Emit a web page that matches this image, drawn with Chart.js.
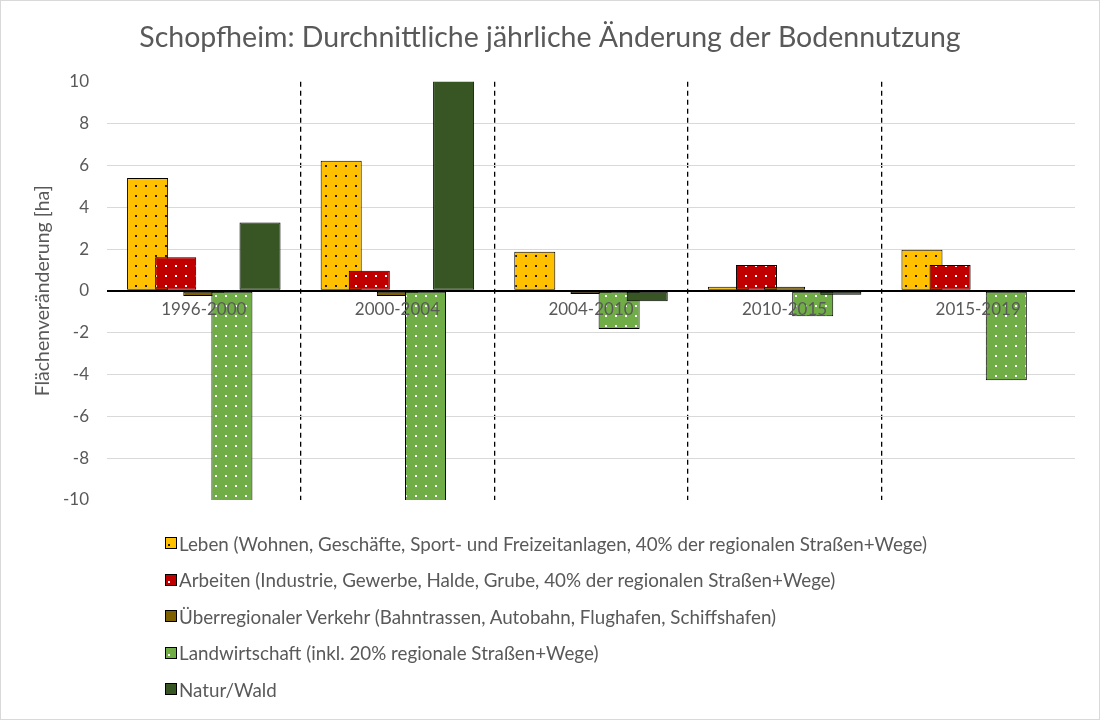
<!DOCTYPE html>
<html lang="de">
<head>
<meta charset="utf-8">
<title>Schopfheim Bodennutzung</title>
<script src="https://cdn.jsdelivr.net/npm/chart.js@4"></script>
<style>
  html, body { margin: 0; padding: 0; background: #fff; }
  #wrap { position: relative; width: 1100px; height: 720px; box-sizing: border-box; border: 1px solid #d9d9d9; }
  #wrap canvas { position: absolute; left: 0; top: 0; }
  #legend { position: absolute; left: 164px; top: 524px; font-family: Lato, "Open Sans", sans-serif; font-size: 18.8px; color: #595959; }
  #legend .item { height: 36.5px; display: flex; align-items: center; white-space: nowrap; }
  #legend .box { width: 10px; height: 10px; border: 1px solid #000; margin-right: 2px; flex: none; position: relative; }
  #legend .dot { position: absolute; left: 2px; top: 6px; width: 2px; height: 2px; }
</style>
</head>
<body>
<div id="wrap">
  <canvas id="chart" width="1098" height="718"></canvas>
  <div id="legend"></div>
</div>
<script>
// Zeiträume
const perioden = ['1996-2000', '2000-2004', '2004-2010', '2010-2015', '2015-2019'];

// durchschnittliche jährliche Änderung in ha
const leben = [5.39, 6.22, 1.87, 0.2, 1.96];
const arbeiten = [1.61, 0.96, 0.05, 1.23, 1.23];
const verkehr = [-0.25, -0.25, -0.15, 0.2, 0];
const landwirtschaft = [-11, -11, -1.83, -1.21, -4.27];
const natur = [3.27, 10.6, -0.5, -0.19, 0];

const yTicks = [-10, -8, -6, -4, -2, 0, 2, 4, 6, 8, 10];

const GRAU = '#595959';
const SCHRIFT = 'Lato, "Open Sans", sans-serif';

// Punktraster wie in Excel
function punktMuster(farbe, punkt) {
    const c = document.createElement('canvas');
    c.width = 10;
    c.height = 10;
    const g = c.getContext('2d');
    g.fillStyle = farbe;
    g.fillRect(0, 0, 10, 10);
    if (punkt) {
        g.fillStyle = punkt;
        g.fillRect(4, 4, 2, 2);
    }
    return g.createPattern(c, 'repeat');
}

const serien = [
    { label: 'Leben (Wohnen, Geschäfte, Sport- und Freizeitanlagen, 40% der regionalen Straßen+Wege)', data: leben, farbe: '#FFC000', punkt: '#2b1f00' },
    { label: 'Arbeiten (Industrie, Gewerbe, Halde, Grube, 40% der regionalen Straßen+Wege)', data: arbeiten, farbe: '#C00000', punkt: '#ffffff' },
    { label: 'Überregionaler Verkehr (Bahntrassen, Autobahn, Flughafen, Schiffshafen)', data: verkehr, farbe: '#7F6000', punkt: null },
    { label: 'Landwirtschaft (inkl. 20% regionale Straßen+Wege)', data: landwirtschaft, farbe: '#70AD47', punkt: '#ffffff' },
    { label: 'Natur/Wald', data: natur, farbe: '#375623', punkt: null },
];

// Balken in Reihenfolge zeichnen, damit der rechte Balken oben liegt
const zeichenReihenfolge = {
    id: 'zeichenReihenfolge',
    beforeDatasetsDraw(chart) {
        const ctx = chart.ctx;
        const a = chart.chartArea;
        ctx.save();
        ctx.beginPath();
        ctx.rect(a.left, a.top, a.right - a.left, a.bottom - a.top);
        ctx.clip();
        chart.getSortedVisibleDatasetMetas().forEach(m => m.controller.draw());
        ctx.restore();
        return false;
    }
};

const chart = new Chart(document.getElementById('chart'), {
    type: 'bar',
    data: {
        labels: perioden,
        datasets: serien.map(s => ({
            label: s.label,
            data: s.data,
            backgroundColor: punktMuster(s.farbe, s.punkt),
            borderColor: '#000',
            borderWidth: 1,
            borderSkipped: false,
            categoryPercentage: 0.726,
            barPercentage: 1.46,
            legendFarbe: s.farbe,
            legendPunkt: s.punkt,
        }))
    },
    options: {
        responsive: false,
        animation: false,
        layout: { padding: { left: 24, right: 24, top: 0, bottom: 219 } },
        plugins: {
            legend: { display: false },
            tooltip: { enabled: false },
            title: {
                display: true,
                text: 'Schopfheim: Durchnittliche jährliche Änderung der Bodennutzung',
                color: GRAU,
                font: { family: SCHRIFT, size: 28.5, weight: 'normal' },
                padding: { top: 20, bottom: 26.5 }
            }
        },
        scales: {
            x: {
                position: { y: 0 },
                grid: {
                    offset: true,
                    drawTicks: false,
                    color: c => (c.index > 0 && c.index < perioden.length) ? '#000' : 'transparent',
                    lineWidth: 1.3
                },
                border: { display: false, dash: [5, 4] },
                ticks: { color: GRAU, font: { family: SCHRIFT, size: 17 }, padding: 8, z: 1 }
            },
            y: {
                min: -10,
                max: 10,
                afterBuildTicks: scale => { scale.ticks = yTicks.map(v => ({ value: v })); },
                afterFit: scale => { scale.width = 82; },
                grid: {
                    drawTicks: false,
                    color: c => c.tick.value === 0 ? '#000' : (Math.abs(c.tick.value) === 10 ? 'transparent' : '#d9d9d9'),
                    lineWidth: c => c.tick.value === 0 ? 2 : 1
                },
                border: { display: false },
                ticks: { color: GRAU, font: { family: SCHRIFT, size: 17 }, padding: 18 },
                title: {
                    display: true,
                    text: 'Flächenveränderung [ha]',
                    color: GRAU,
                    font: { family: SCHRIFT, size: 19.5 },
                    padding: { top: 6, bottom: 0 }
                }
            }
        }
    },
    plugins: [zeichenReihenfolge]
});

// Legende untereinander wie im Original
const legende = document.getElementById('legend');
chart.data.datasets.forEach(ds => {
    const item = document.createElement('div');
    item.className = 'item';
    const box = document.createElement('span');
    box.className = 'box';
    box.style.background = ds.legendFarbe;
    if (ds.legendPunkt) {
        const dot = document.createElement('span');
        dot.className = 'dot';
        dot.style.background = ds.legendPunkt;
        box.appendChild(dot);
    }
    const text = document.createElement('span');
    text.textContent = ds.label;
    item.appendChild(box);
    item.appendChild(text);
    legende.appendChild(item);
});
</script>
</body>
</html>
